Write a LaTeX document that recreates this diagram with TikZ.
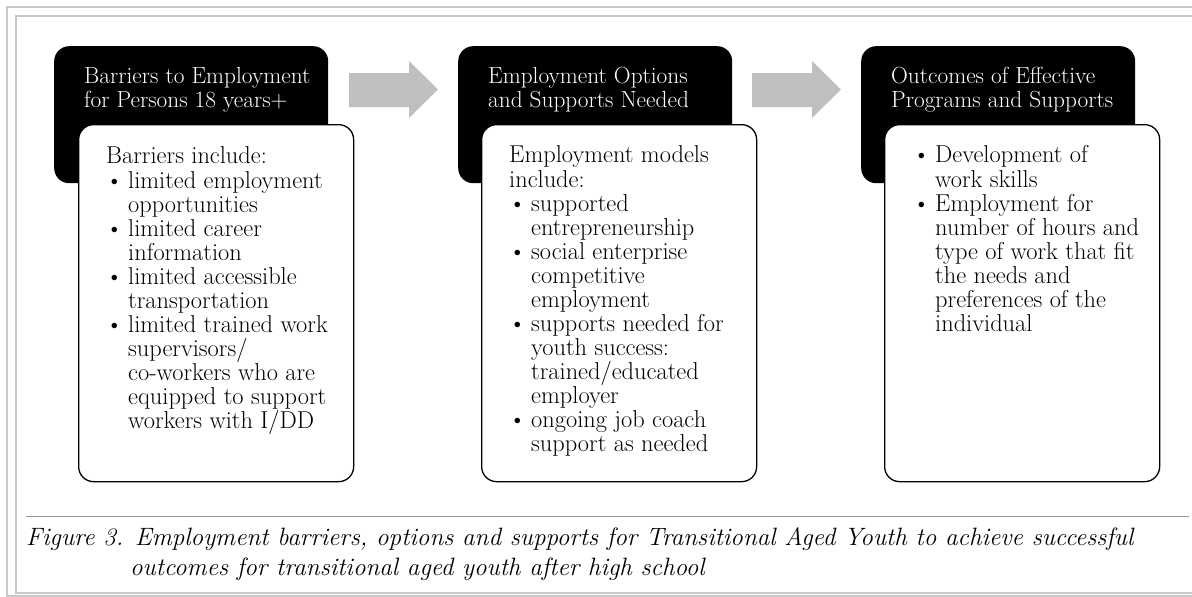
\documentclass[tikz,border=0pt]{standalone}
\definecolor{arrowgray}{RGB}{190,191,193}
\definecolor{framegray}{RGB}{200,200,200}
\definecolor{rulegray}{RGB}{150,150,150}
\newcommand\bitem{\makebox[22pt][l]{\hspace{-0.5pt}\textbullet}}
\newcommand\bcont{\hspace*{22pt}}
\begin{document}
\begin{tikzpicture}[x=1pt,y=-1pt,
  headbox/.style={fill=black, rounded corners=15pt, minimum width=274pt, minimum height=137pt, anchor=north west, inner sep=0pt},
  bodybox/.style={fill=white, draw=black, line width=1.3pt, rounded corners=15pt, minimum width=275pt, minimum height=357pt, anchor=north west, inner sep=0pt},
  headtext/.style={text=white, font=\fontsize{23.3}{23}\selectfont, align=left, anchor=north west, inner sep=0pt},
  bodytext/.style={font=\fontsize{24.4}{24}\selectfont, align=left, anchor=north west, inner sep=0pt},
  captext/.style={font=\fontsize{25.1}{30}\selectfont\itshape, align=left, anchor=north west, inner sep=0pt},
  bigarrow/.style={fill=arrowgray},
  frameline/.style={draw=framegray, line width=1.3pt}
]
\useasboundingbox (0,0) rectangle (1192,597);
% page frame
\draw[frameline] (1194,7) -- (7,7) -- (7,596) -- (1194,596);
\draw[frameline] (1194,16) -- (16,16) -- (16,593) -- (1194,593);

% column 1
\node[headbox] (h1) at (54,46) {};
\node[bodybox] (b1) at (78,124) {};
\node[headtext] (h1t) at (84,66.9) {\strut Barriers to Employment\\for Persons 18 years+};
\node[bodytext] (b1t) at (106,146.2) {\strut Barriers include:\\
\bitem limited employment\\
\bcont opportunities\\
\bitem limited career\\
\bcont information\\
\bitem limited accessible\\
\bcont transportation\\
\bitem limited trained work\\
\bcont supervisors/\\
\bcont co-workers who are\\
\bcont equipped to support\\
\bcont workers with I/DD};

% column 2
\node[headbox] (h2) at (458,46) {};
\node[bodybox] (b2) at (481,124) {};
\node[headtext] (h2t) at (488,66.9) {\strut Employment Options\\and Supports Needed};
\node[bodytext] (b2t) at (509,145.2) {\strut Employment models\\
include:\\
\bitem supported\\
\bcont entrepreneurship\\
\bitem social enterprise\\
\bcont competitive\\
\bcont employment\\
\bitem supports needed for\\
\bcont youth success:\\
\bcont trained/educated\\
\bcont employer\\
\bitem ongoing job coach\\
\bcont support as needed};

% column 3
\node[headbox] (h3) at (861,46) {};
\node[bodybox] (b3) at (884,124) {};
\node[headtext] (h3t) at (891,66.9) {\strut Outcomes of Effective\\Programs and Supports};
\node[bodytext] (b3t) at (913,145.2) {\strut\bitem Development of\\
\bcont work skills\\
\bitem Employment for\\
\bcont number of hours and\\
\bcont type of work that fit\\
\bcont the needs and\\
\bcont preferences of the\\
\bcont individual};

% block arrows
\fill[bigarrow] (349,73) -- (409,73) -- (409,61) -- (438,89.5) -- (409,118) -- (409,107) -- (349,107) -- cycle;
\fill[bigarrow] (752,73) -- (812,73) -- (812,61) -- (841,89.5) -- (812,118) -- (812,107) -- (752,107) -- cycle;

% caption
\draw[draw=rulegray, line width=0.9pt] (26,516) -- (1189,516);
\node[captext] (cap) at (26,524) {\strut Figure 3. Employment barriers, options and supports for Transitional Aged Youth to achieve successful\\
\hspace*{104pt}outcomes for transitional aged youth after high school};
\end{tikzpicture}
\end{document}
